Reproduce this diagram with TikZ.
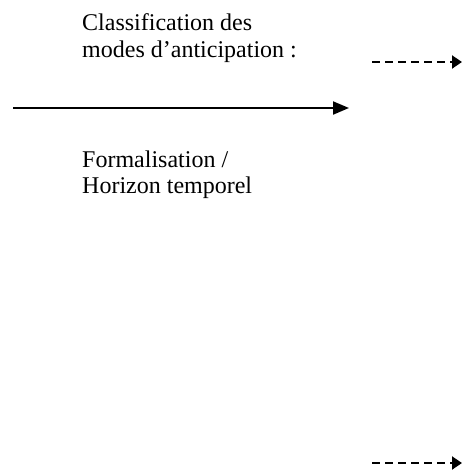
\documentclass[tikz,border=0pt]{standalone}
\usepackage{fontspec}
\setmainfont{Liberation Serif}
\usetikzlibrary{arrows.meta}
\begin{document}
\begin{tikzpicture}[x=1pt,y=-1pt,
  lbl/.style={anchor=base west,inner sep=0pt,font=\fontsize{24}{26.5}\selectfont,align=left},
  solidarrow/.style={line width=2pt,-{Triangle[length=16pt,width=13pt]}},
  dasharrow/.style={line width=2pt,dash pattern=on 8pt off 5pt,-{Triangle[length=10pt,width=13pt]}}]
\useasboundingbox (0,0) rectangle (462,475);
\node[lbl] (classif) at (82,30.5) {Classification des};
\node[lbl] (modes) at (82,57) {modes d’anticipation :};
\node[lbl] (formal) at (82,167) {Formalisation /};
\node[lbl] (horizon) at (82,193) {Horizon temporel};
\coordinate (s1) at (13,108);
\coordinate (e1) at (349,108);
\coordinate (s2) at (372,62);
\coordinate (e2) at (462,62);
\coordinate (s3) at (372,463);
\coordinate (e3) at (462,463);
\draw[solidarrow] (s1) -- (e1);
\draw[dasharrow] (s2) -- (e2);
\draw[dasharrow] (s3) -- (e3);
\end{tikzpicture}
\end{document}
